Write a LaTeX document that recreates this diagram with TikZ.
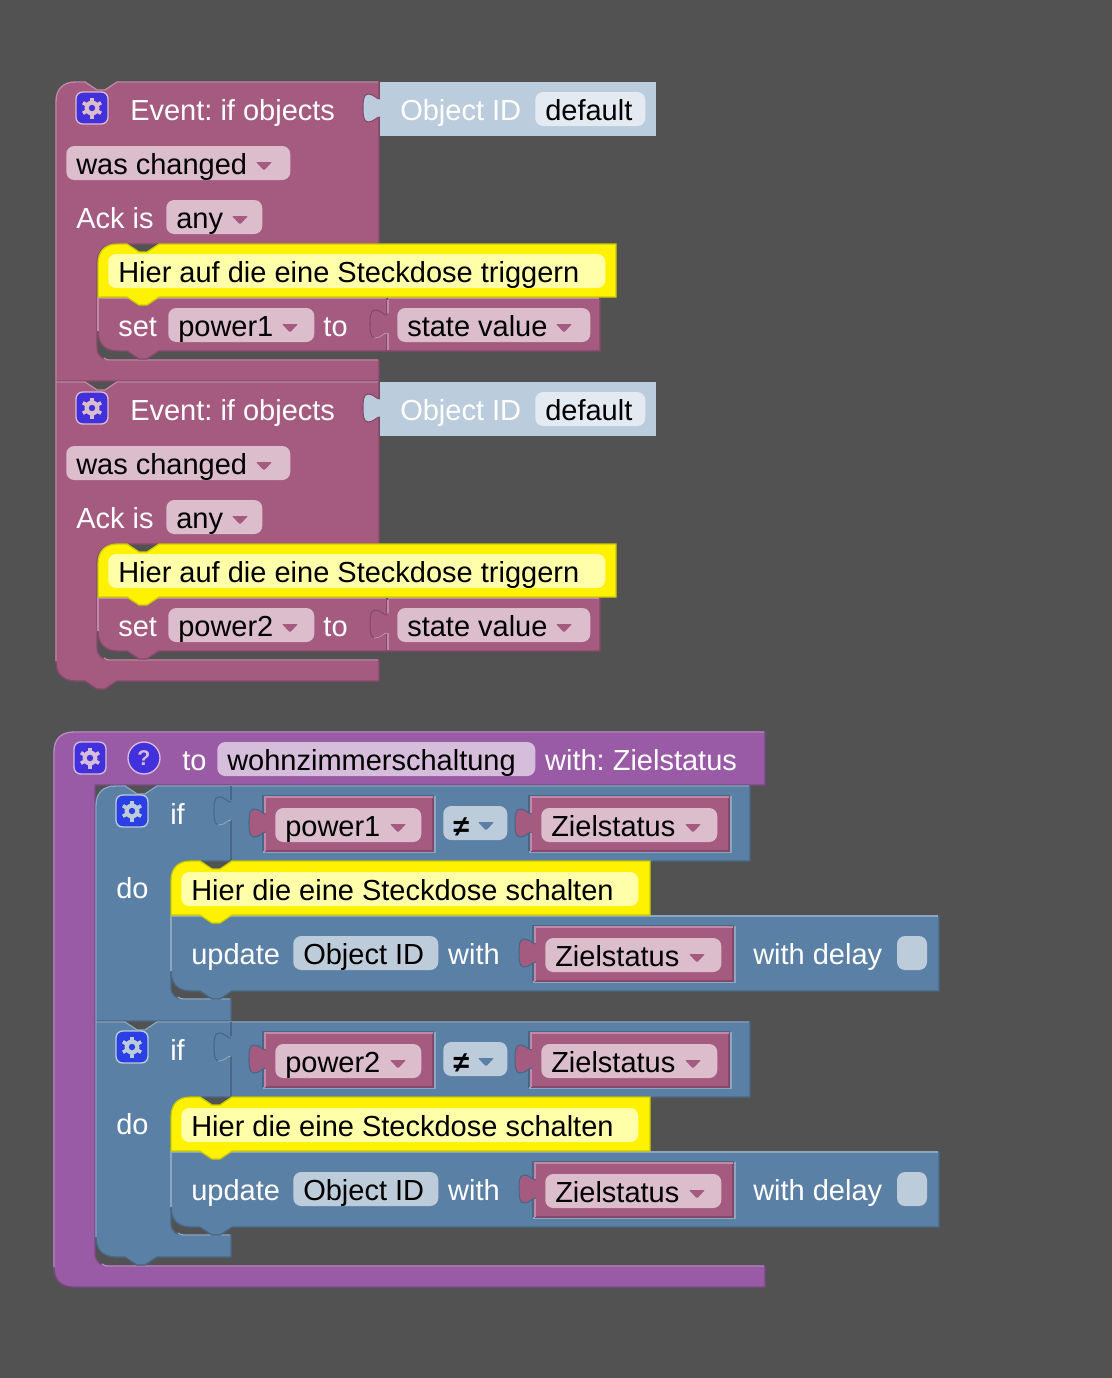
\documentclass[tikz,border=0pt]{standalone}
\usepackage{fontspec}
\setmainfont{Liberation Sans}
\frenchspacing
\usetikzlibrary{positioning}
\definecolor{bgc}{HTML}{525252}
\definecolor{pinkc}{HTML}{A55B80}
\definecolor{pinkl}{HTML}{C08AA6}
\definecolor{pinkd}{HTML}{84496A}
\definecolor{pinkf}{HTML}{DBBDCC}
\definecolor{bluec}{HTML}{5B80A5}
\definecolor{bluel}{HTML}{8CA6C0}
\definecolor{blued}{HTML}{496684}
\definecolor{bluef}{HTML}{BDCCDB}
\definecolor{purplec}{HTML}{995BA5}
\definecolor{purplel}{HTML}{B98CC3}
\definecolor{purpled}{HTML}{7A4984}
\definecolor{purplef}{HTML}{D6BDDB}
\definecolor{yellowd}{HTML}{CCCC00}
\definecolor{yellowf}{HTML}{FFFFAA}
\definecolor{oidc}{HTML}{BBCCDD}
\definecolor{oidf}{HTML}{E4EAF1}
\definecolor{iconblue}{HTML}{4130DC}
\definecolor{iconblue2}{HTML}{2A40E4}
\newcommand{\blockfont}{\fontsize{21.75}{24}\selectfont}
\tikzstyle{lbl} = [anchor=base west, inner sep=0pt, text=white, font=\blockfont]
\tikzstyle{fieldbox} = [rectangle, rounded corners=6pt, anchor=base west, inner xsep=7.5pt, inner ysep=0pt, text height=21pt, text depth=4.5pt, text=black, font=\blockfont]
\tikzstyle{iconbox} = [rectangle, rounded corners=5pt, minimum size=24pt, inner sep=0pt, line width=1pt]
\tikzstyle{pinkblock} = [fill=pinkc, draw=pinkd, line width=1pt]
\tikzstyle{blueblock} = [fill=bluec, draw=blued, line width=1pt]
\tikzstyle{purpleblock} = [fill=purplec, draw=purpled, line width=1pt]
\tikzstyle{yellowblock} = [fill=yellow, draw=yellowd, line width=1pt]
\tikzstyle{edge} = [line width=1pt]
\tikzset{tabpic/.pic={
  \draw[pic actions] (0,5) .. controls (-4,5) and (-6,0) .. (-12,0) .. controls (-17,0) and (-17,8) .. (-17,14) .. controls (-17,20) and (-17,28) .. (-12,28) .. controls (-6,28) and (-4,23) .. (0,23);
}}
\tikzset{tablow/.pic={
  \draw[pic actions] (-13,28) -- (-12,28) .. controls (-6,28) and (-4,23) .. (0,23);
}}
% box text with a fixed box width, given in pixels
\newcommand{\fld}[2]{\makebox[\dimexpr #1pt*3/4-15pt\relax][l]{#2}}
\newcommand{\droparrow}[3]{\fill[#3, rounded corners=0.8pt] (#1-8,#2-4) -- (#1+8,#2-4) -- (#1,#2+4.5) -- cycle;}
\newcommand{\gearicon}[5]{
  \node (#1) [iconbox, fill=#4, draw=#5] at (#2,#3) {};
  \foreach \a in {30,90,...,330} {\draw[#5, line width=2.7pt] (#2,#3) ++(\a:5) -- ++(\a:5.5);}
  \fill[#5] (#2,#3) circle[radius=7.5];
  \fill[#4] (#2,#3) circle[radius=3.2];
}
% pink value block with its tab, set into a blue block
\newcommand{\valueblk}[3]{
  \draw[edge, blued] (#1-2,#3+55) -- (#1-2,#3-1) -- (#2+1,#3-1);
  \draw[edge, bluel] (#2+2,#3-1) -- (#2+2,#3+55) -- (#1-2,#3+55);
  \fill[pinkc] (#1,#3) rectangle (#2,#3+54);
  \draw[edge, pinkd] (#2,#3) -- (#2,#3+54) -- (#1,#3+54);
  \draw[edge, pinkl] (#1,#3+54) -- (#1,#3) -- (#2,#3);
  \pic[fill=pinkc, draw=blued, line width=0.8pt] at (#1+1,#3+12) {tabpic};
  \fill[pinkc] (#1-1,#3+18) rectangle (#1+2,#3+34);
}

\begin{document}
\begin{tikzpicture}[x=0.75pt, y=-0.75pt]
\fill[bgc] (0,0) rectangle (1112,1378);
\useasboundingbox (0,0) rectangle (1112,1378);

% two event blocks, the outlines differ at the bottom
\draw[pinkblock] (56,102) .. controls (56,89) and (63,82) .. (76,82) -- (85,82) -- (97,90) -- (105,90) -- (117,82) -- (379,82) -- (379,244) -- (117,244) .. controls (104,244) and (97,251) .. (97,264) -- (97,347) .. controls (97,355) and (102,360) .. (110,360) -- (379,360) -- (379,381) -- (56,381) -- cycle;
\draw[pinkblock] (56,382) -- (85,382) -- (97,390) -- (105,390) -- (117,382) -- (379,382) -- (379,544) -- (117,544) .. controls (104,544) and (97,551) .. (97,564) -- (97,647) .. controls (97,655) and (102,660) .. (110,660) -- (379,660) -- (379,681) -- (117,681) -- (105,689) -- (97,689) -- (85,681) -- (76,681) .. controls (63,681) and (56,674) .. (56,661) -- cycle;
\draw[edge, pinkl] (56,381) -- (56,102) .. controls (56,89) and (63,82) .. (76,82) -- (85,82) -- (97,90) -- (105,90) -- (117,82) -- (378,82);
\draw[edge, pinkl] (104,358) .. controls (106,360) and (108,360) .. (110,360) -- (378,360);
\draw[edge, pinkl] (56,661) -- (56,382) -- (85,382) -- (97,390) -- (105,390) -- (117,382) -- (378,382);
\draw[edge, pinkl] (104,658) .. controls (106,660) and (108,660) .. (110,660) -- (378,660);

\foreach \y/\pw in {0/power1,300/power2} {
\begin{scope}[shift={(0,\y)}, name prefix=\pw-]
  % object id value
  \fill[oidc] (380,82) rectangle (656,136);
  \pic[fill=oidc, draw=pinkd, line width=0.8pt] at (380,94) {tabpic};
  \fill[oidc] (379,100) rectangle (382,116);
  \node (oid) [lbl] at (400,120) {Object ID};
  \node (default) [fieldbox, fill=oidf] at (535,120) {\fld{110}{default}};

  \gearicon{gear}{92}{108}{iconblue}{pinkf}
  \node (event) [lbl] at (130,120) {Event: if objects};
  \node (changed) [fieldbox, fill=pinkf] at (66,174) {\fld{224}{was changed}};
  \droparrow{264}{166}{pinkc}
  \node (ack) [lbl] at (76,228) {Ack is};
  \node (any) [fieldbox, fill=pinkf] at (166,228) {\fld{96}{any}};
  \droparrow{240}{220}{pinkc}

  % set block under the comment
  \draw[pinkblock] (98,331) .. controls (98,344) and (105,351) .. (118,351) -- (127,351) -- (139,359) -- (147,359) -- (159,351) -- (600,351) -- (600,298) -- (98,298) -- cycle;
  \draw[edge, pinkl] (98,331) -- (98,298) -- (599,298);
  \draw[edge, pinkd] (387,298) -- (387,313);
  \draw[edge, pinkl] (388,300) -- (388,313);
  \draw[edge, pinkd] (387,333) -- (387,351);
  \draw[edge, pinkl] (388,333) -- (388,350);
  \pic[fill=pinkc, draw=pinkd, line width=0.8pt] at (387,310) {tabpic};
  \pic[draw=pinkl, line width=0.8pt] at (387,310) {tablow};
  \fill[pinkc] (386,316) rectangle (390,332);
  \node (set) [lbl] at (118,336) {set};
  \node (power) [fieldbox, fill=pinkf] at (168,336) {\fld{146}{\pw}};
  \droparrow{290}{328}{pinkc}
  \node (to) [lbl, base right=6.5pt of power] {to};
  \node (state) [fieldbox, fill=pinkf] at (397,336) {\fld{193}{state value}};
  \droparrow{564}{328}{pinkc}

  % comment
  \draw[yellowblock] (98,297) -- (98,264) .. controls (98,251) and (105,244) .. (118,244) -- (127,244) -- (139,252) -- (147,252) -- (159,244) -- (616,244) -- (616,297) -- (159,297) -- (147,305) -- (139,305) -- (127,297) -- cycle;
  \node (hint) [fieldbox, fill=yellowf] at (108,282) {\fld{497}{Hier auf die eine Steckdose triggern}};
\end{scope}
}

% function block
\draw[purpleblock] (54,752) .. controls (54,739) and (61,732) .. (74,732) -- (765,732) -- (765,785) -- (95,785) -- (95,1253) .. controls (95,1261) and (100,1266) .. (108,1266) -- (765,1266) -- (765,1287) -- (74,1287) .. controls (61,1287) and (54,1280) .. (54,1267) -- cycle;
\draw[edge, purplel] (54,1267) -- (54,752) .. controls (54,739) and (61,732) .. (74,732) -- (764,732);
\draw[edge, purplel] (102,1264) .. controls (104,1266) and (106,1266) .. (108,1266) -- (764,1266);
\gearicon{fgear}{90}{758}{iconblue}{purplef}
\node (help) [circle, fill=iconblue, draw=purplef, line width=1pt, minimum size=24pt, inner sep=0pt, text=purplef, font=\fontsize{16}{16}\selectfont\bfseries] at (144,758) {?};
\node (fto) [lbl] at (182,770) {to};
\node (fname) [fieldbox, fill=purplef] at (217,770) {\fld{318}{wohnzimmerschaltung}};
\node (fwith) [lbl, base right=7pt of fname] {with: Zielstatus};

% two if blocks, the outlines differ at the bottom
\draw[blueblock] (96,806) .. controls (96,793) and (103,786) .. (116,786) -- (125,786) -- (137,794) -- (145,794) -- (157,786) -- (750,786) -- (750,861) -- (191,861) .. controls (178,861) and (171,868) .. (171,881) -- (171,987) .. controls (171,995) and (176,999) .. (184,999) -- (231,999) -- (231,1021) -- (96,1021) -- cycle;
\draw[blueblock] (96,1022) -- (125,1022) -- (137,1030) -- (145,1030) -- (157,1022) -- (750,1022) -- (750,1097) -- (191,1097) .. controls (178,1097) and (171,1104) .. (171,1117) -- (171,1223) .. controls (171,1231) and (176,1235) .. (184,1235) -- (231,1235) -- (231,1257) -- (157,1257) -- (145,1265) -- (137,1265) -- (125,1257) -- (116,1257) .. controls (103,1257) and (96,1250) .. (96,1237) -- cycle;
\draw[edge, bluel] (96,1021) -- (96,806) .. controls (96,793) and (103,786) .. (116,786) -- (125,786) -- (137,794) -- (145,794) -- (157,786) -- (749,786);
\draw[edge, bluel] (178,997) .. controls (180,999) and (182,999) .. (184,999) -- (230,999);
\draw[edge, bluel] (96,1237) -- (96,1022) -- (125,1022) -- (137,1030) -- (145,1030) -- (157,1022) -- (749,1022);
\draw[edge, bluel] (178,1233) .. controls (180,1235) and (182,1235) .. (184,1235) -- (230,1235);

\foreach \y/\pw in {0/power1,236/power2} {
\begin{scope}[shift={(0,\y)}, name prefix=\pw-]
  \gearicon{igear}{132}{811}{iconblue2}{bluef}
  \node (if) [lbl] at (170,824) {if};
  \node (do) [lbl] at (116,898) {do};
  \draw[edge, blued] (231,786) -- (231,800);
  \draw[edge, blued] (231,820) -- (231,861);
  \pic[fill=bluec, draw=blued, line width=0.8pt] at (231,797) {tabpic};
  \pic[draw=bluel, line width=0.8pt] at (231,797) {tablow};
  \fill[bluec] (230,803) rectangle (234,819);

  \valueblk{265}{433}{797}
  \node (left) [fieldbox, fill=pinkf] at (275,836) {\fld{146}{\pw}};
  \droparrow{398}{828}{pinkc}
  \node (neq) [fieldbox, fill=bluef] at (443,834) {\fld{64}{\raisebox{-2pt}{\bfseries ≠}}};
  \droparrow{486}{826}{bluec}
  \valueblk{531}{729}{797}
  \node (right) [fieldbox, fill=pinkf] at (541,836) {\fld{176}{Zielstatus}};
  \droparrow{693}{828}{pinkc}

  % update block under the comment
  \draw[blueblock] (171,971) .. controls (171,984) and (178,991) .. (191,991) -- (200,991) -- (212,999) -- (220,999) -- (232,991) -- (939,991) -- (939,916) -- (171,916) -- cycle;
  \draw[edge, bluel] (171,971) -- (171,916) -- (938,916);
  \node (update) [lbl] at (191,964) {update};
  \node (oid) [fieldbox, fill=bluef] at (293,964) {\fld{145}{Object ID}};
  \node (with) [lbl, base right=7pt of oid] {with};
  \valueblk{535}{733}{927}
  \node (value) [fieldbox, fill=pinkf] at (545,966) {\fld{176}{Zielstatus}};
  \droparrow{697}{958}{pinkc}
  \node (delay) [lbl] at (753,964) {with delay};
  \node (check) [rectangle, rounded corners=6pt, fill=bluef, minimum width=22.5pt, minimum height=25.5pt, inner sep=0pt] at (912,953) {};

  % comment
  \draw[yellowblock] (171,915) -- (171,881) .. controls (171,868) and (178,861) .. (191,861) -- (200,861) -- (212,869) -- (220,869) -- (232,861) -- (650,861) -- (650,915) -- (232,915) -- (220,923) -- (212,923) -- (200,915) -- cycle;
  \node (hint) [fieldbox, fill=yellowf] at (181,900) {\fld{457}{Hier die eine Steckdose schalten}};
\end{scope}
}
\end{tikzpicture}
\end{document}
